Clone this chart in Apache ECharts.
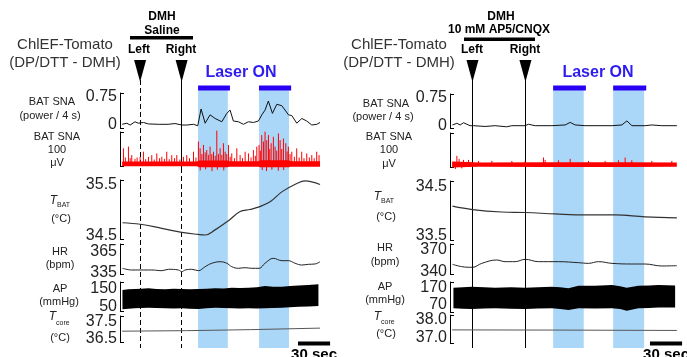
<!DOCTYPE html>
<html>
<head>
<meta charset="utf-8">
<script src="https://cdn.jsdelivr.net/npm/echarts@6.0.0/dist/echarts.min.js"></script>
<style>
  html, body { margin: 0; padding: 0; background: #fff; }
  #main { width: 687px; height: 357px; }
</style>
</head>
<body>
<div id="main"></div>
<script>
// ---- values, time in s from start of trace ----
// left panel: DMH saline
const laserLeft = [[71, 98.8], [128, 156]];
const injLeft = [16.8, 55.6];            // Left, Right
const scaleBarLeft = 164.4;               // start of 30 s bar

const powerLeft = [[0,0],[4.4,0.03],[7.5,-0.02],[12,0.07],[15,0.03],[20,0.05],[24.6,0.01],[34,0],[43,0],[49.5,0.02],[55.8,-0.02],[60.4,-0.02],[66.7,0],[70.7,-0.04],[73.8,0.42],[77.6,0.03],[82.2,0.26],[86.9,0.16],[93.2,0.07],[97.8,0.30],[100.9,0.39],[104,0.09],[108.7,0.07],[113.4,0],[118,0.07],[122.7,0.05],[127.4,0.09],[130.6,0.26],[133.6,0.39],[136.7,0.64],[140.5,0.30],[144.6,0.55],[149.3,0.51],[155.5,0.26],[158.6,0.24],[163.3,0.03],[168,0.16],[172.6,0.09],[177.3,-0.02],[182,0],[185,0.05]];
const snaSpikesLeft = [[1.2,47],[3,20],[5.9,52],[7.5,18],[9,27],[12,16],[14,20],[16.8,22],[19.9,37],[22,15],[24.6,22],[27.7,27],[30,14],[32.4,32],[35,18],[37.1,22],[39.5,16],[41.7,37],[44,15],[46.4,27],[49,18],[51.1,27],[54,14],[57.3,22],[60.4,27],[63,18],[66.7,37],[69,20],[71.3,67],[72.9,47],[74.5,30],[76,57],[77.6,35],[79.1,42],[80.6,28],[82.2,52],[83.8,30],[85.4,37],[87,25],[88.5,99],[90,30],[91.6,47],[93.2,28],[94.7,62],[96.3,37],[97.8,30],[99.4,57],[101,22],[102.5,32],[105,18],[107.2,47],[110.3,27],[112.5,18],[115,37],[118.1,32],[120.5,20],[122.7,42],[124.5,25],[125.9,52],[128,57],[129.2,40],[130.5,86],[132.1,67],[133.6,96],[135.2,71],[136.8,86],[138,45],[139.3,62],[141.4,81],[143,52],[144.5,40],[146.1,91],[147.7,71],[149.2,45],[150.8,76],[153,62],[154.2,38],[155.4,52],[157,30],[158.6,37],[161,22],[163.2,47],[165.5,20],[167.9,37],[170,18],[172.6,32],[175,20],[177.3,27],[179.5,18],[181.9,37],[184.1,27]];
const snaDipsLeft = [[73,-18],[78,-15],[84,-20],[89,-16],[95,-18],[131,-17],[135,-20],[140,-16],[146,-19],[151,-17]];
const snaTopLeft = [[0,8],[70,8],[71.5,11],[98.5,11],[100,9],[127.5,9],[129,12],[156,12],[157.5,9],[185,9]];
const snaBottomLeft = [[0,-6],[70,-6],[71.5,-9],[98.5,-9],[100,-7],[127.5,-7],[129,-9],[156,-9],[157.5,-7],[185,-7]];
const tbatLeft = [[0.3,34.76],[16.8,34.73],[37.1,34.65],[55.8,34.57],[71.3,34.53],[77.6,34.52],[86.9,34.62],[99.4,34.80],[110.3,34.98],[119.6,35.02],[128,35.07],[138.3,35.17],[149.6,35.37],[163.3,35.53],[171,35.58],[185,35.51]];
const hrLeft = [[0.3,341.7],[9,339.3],[16.8,339.3],[27.7,339.3],[37.1,338.3],[43.3,340.3],[52.6,339.3],[55.8,336.9],[58.9,339.3],[65.1,340.3],[71.3,338.3],[77.6,344],[83.8,348.9],[91.6,351.1],[97.8,348.9],[102.5,344],[108.7,341.7],[115,342.6],[121.2,341.7],[128,341.7],[133.6,348.9],[141.4,356],[149.3,352.6],[155.5,352.6],[161.7,348.9],[167.9,346.4],[174.1,347.4],[180.4,347.9],[185,351.1]];
const apTopLeft = [[0.3,144],[6,149],[11.8,150],[18,152],[24.6,154],[32,150],[40.2,148],[48,151],[55.8,150],[63,148],[71.3,150],[79,152],[86.9,154],[95,153],[102.5,157],[110,155],[118.1,157],[126,160],[133.6,167],[141,163],[149.3,163],[157,166],[164.9,169],[174,172],[183.5,176]];
const apBottomLeft = [[0.3,37],[6,40],[11.8,43],[18,44],[24.6,46],[32,44],[40.2,43],[48,41],[55.8,43],[63,40],[71.3,39],[79,43],[86.9,46],[95,44],[102.5,43],[110,41],[118.1,43],[126,41],[133.6,43],[141,45],[149.3,46],[157,48],[164.9,52],[174,53],[183.5,56]];
const tcoreLeft = [[0,36.96],[60,36.99],[120,37.05],[185,37.14]];

// right panel: DMH 10 mM AP5/CNQX
const laserRight = [[94.4, 123], [150.5, 179.4]];
const injRight = [19, 68.5];
const scaleBarRight = 184.9;

const powerRight = [[0.3,0.02],[4.4,0.065],[7.5,0.02],[10.6,0.08],[13.7,0.04],[16.8,0],[19.9,0],[30.8,-0.02],[40.2,0],[51,-0.03],[55.8,0],[68.2,0],[71.3,0.04],[77.6,0],[93.2,0],[105.6,0.02],[110.3,0.09],[115,0.02],[124.3,0],[149.3,0],[158.6,0.02],[163.3,0.13],[168,0],[180.4,0],[186.6,0.02],[196,0],[210,0]];
const snaSpikesRight = [[4.4,27],[6.5,18],[10.6,15],[15.3,15],[24.6,12],[37.1,12],[55.8,12],[68.2,12],[85.4,22],[86.9,15],[99.4,14],[110.3,18],[127.4,12],[143,12],[155.5,14],[161.7,22],[167.9,14],[186.6,12],[205.3,12]];
const snaDipsRight = [[3,-12],[9,-10]];
const snaTopRight = [[0,10],[15,9],[25,7],[85,8],[120,8],[165,8],[210,7]];
const snaBottomRight = [[0,-7],[15,-6],[25,-5],[85,-6],[120,-6],[165,-6],[210,-5]];
const tbatRight = [[0.3,34.11],[19,34.04],[46.4,33.99],[68.5,33.98],[96.3,33.95],[124.3,33.93],[152.3,33.93],[180.4,33.89],[210,33.87]];
const hrRight = [[0.3,350.5],[9,347.3],[19,346.4],[27.7,351.8],[41.7,356.4],[49.5,354.1],[58.9,354.1],[68.2,357.3],[80.7,354.1],[99.4,354.1],[118.1,352.7],[127.4,351.8],[136.8,354.1],[149.3,351.8],[167.9,350.9],[180.4,350.9],[195.9,348.2],[210,348.6]];
const apTopRight = [[1.2,172],[10,175],[18.4,178],[30,174],[40.2,172],[55,174],[68.2,172],[80,175],[93.2,178],[101,174],[108.7,168],[118.1,183],[133.6,183],[149.3,187],[157,181],[163.2,172],[174.1,183],[184,185],[192.8,187],[208.4,184]];
const apBottomRight = [[1.2,51],[10,48],[18.4,47],[30,49],[40.2,51],[55,48],[68.2,47],[80,49],[93.2,51],[101,47],[108.7,41],[118.1,51],[133.6,50],[149.3,51],[157,47],[163.2,36],[174.1,51],[184,53],[192.8,55],[208.4,55]];
const tcoreRight = [[0,37.45],[100,37.44],[210,37.42]];

// tick labels
const powerTicks = [0, 0.75];
const snaScale = [0, 100];
const tbatTicksLeft = [34.5, 35.5], tbatTicksRight = [33.5, 34.5];
const hrTicksLeft = [335, 365], hrTicksRight = [340, 370];
const apTicksLeft = [50, 150], apTicksRight = [70, 170];
const tcoreTicksLeft = [36.5, 37.5], tcoreTicksRight = [37.0, 38.0];

const FONT = '"Liberation Sans", Arial, sans-serif';

// panel layout (px): bracket top/bottom and pixel rows of the two tick values
const panels = [
  {
    left: 120, width: 215, tMin: -2, tMax: 199,
    laser: laserLeft, inj: injLeft, injDash: [true, 'split'], scaleBar: scaleBarLeft,
    traces: [
      { kind: 'line', data: powerLeft, ticks: powerTicks, top: 93, bottom: 128, px: [124.3, 97], color: '#111', width: 1 },
      { kind: 'sna', spikes: snaSpikesLeft.concat(snaDipsLeft), upper: snaTopLeft, lower: snaBottomLeft, ticks: snaScale, top: 132, bottom: 166, px: [164.3, 130.3], noLabel: true },
      { kind: 'line', data: tbatLeft, ticks: tbatTicksLeft, dec: 1, top: 180, bottom: 239, px: [236, 185], color: '#333', width: 1.2, smooth: true },
      { kind: 'line', data: hrLeft, ticks: hrTicksLeft, top: 244, bottom: 274, px: [273, 252], color: '#222', width: 1, smooth: true },
      { kind: 'band', upper: apTopLeft, lower: apBottomLeft, ticks: apTicksLeft, top: 282, bottom: 311, px: [307, 289] },
      { kind: 'line', data: tcoreLeft, ticks: tcoreTicksLeft, dec: 1, top: 316, bottom: 342, px: [339, 322], color: '#555', width: 1 }
    ]
  },
  {
    left: 450, width: 237, tMin: -2, tMax: 219.5,
    laser: laserRight, inj: injRight, injDash: [false, false], scaleBar: scaleBarRight,
    traces: [
      { kind: 'line', data: powerRight, ticks: powerTicks, top: 94, bottom: 128, px: [125.7, 98], color: '#111', width: 1 },
      { kind: 'sna', spikes: snaSpikesRight.concat(snaDipsRight), upper: snaTopRight, lower: snaBottomRight, ticks: snaScale, top: 133, bottom: 167, px: [165, 131], noLabel: true },
      { kind: 'line', data: tbatRight, ticks: tbatTicksRight, dec: 1, top: 181, bottom: 240, px: [236, 187], color: '#333', width: 1.2, smooth: true },
      { kind: 'line', data: hrRight, ticks: hrTicksRight, top: 244, bottom: 274, px: [272, 250], color: '#222', width: 1, smooth: true },
      { kind: 'band', upper: apTopRight, lower: apBottomRight, ticks: apTicksRight, top: 282, bottom: 312, px: [305, 288] },
      { kind: 'line', data: tcoreRight, ticks: tcoreTicksRight, dec: 1, top: 315, bottom: 343, px: [338, 320], color: '#555', width: 1 }
    ]
  }
];

function axisRange(tr) {
  const [v1, v2] = tr.ticks, [p1, p2] = tr.px;
  const s = (p1 - p2) / (v2 - v1);
  return { min: v1 - (tr.bottom - p1) / s, max: v2 + (p2 - tr.top) / s };
}

function polygonSeries(upper, lower, color, idx) {
  return {
    type: 'custom', xAxisIndex: idx, yAxisIndex: idx, z: 5, silent: true,
    data: [[0, 0]],
    renderItem: function (params, api) {
      const pts = upper.map(p => api.coord(p)).concat(lower.slice().reverse().map(p => api.coord(p)));
      return { type: 'polygon', shape: { points: pts }, style: { fill: color } };
    }
  };
}

const option = {
  animation: false,
  textStyle: { fontFamily: FONT },
  grid: [], xAxis: [], yAxis: [], series: [], graphic: []
};

panels.forEach(P => {
  // full-height overlay: laser bands, injection lines, triangles, time bar
  const oi = option.grid.length;
  option.grid.push({ left: P.left, width: P.width, top: 0, height: 357, outerBoundsMode: 'none' });
  option.xAxis.push({ type: 'value', gridIndex: oi, min: P.tMin, max: P.tMax, show: false });
  option.yAxis.push({ type: 'value', gridIndex: oi, min: 0, max: 357, inverse: true, show: false });

  const areas = [];
  P.laser.forEach(l => {
    areas.push([{ xAxis: l[0], yAxis: 86, itemStyle: { color: '#aad7f8' } }, { xAxis: l[1], yAxis: 348 }]);
    areas.push([{ xAxis: l[0], yAxis: 85.5, itemStyle: { color: '#2a00f5' } }, { xAxis: l[1] + 2, yAxis: 90.5 }]);
  });
  areas.push([{
    xAxis: P.scaleBar, yAxis: 341.5, itemStyle: { color: '#000' },
    label: { show: true, position: 'bottom', distance: 2, formatter: '30 sec', fontSize: 15, fontWeight: 'bold', color: '#000', fontFamily: FONT }
  }, { xAxis: P.scaleBar + 30, yAxis: 345.5 }]);

  const lines = [];
  const solid = { color: '#000', width: 1, type: 'solid' };
  const dashed = { color: '#000', width: 1, type: [5, 3] };
  P.inj.forEach((t, i) => {
    const d = P.injDash[i];
    if (d === 'split') {
      lines.push([{ coord: [t, 80], lineStyle: solid }, { coord: [t, 168] }]);
      lines.push([{ coord: [t, 168], lineStyle: dashed }, { coord: [t, 348] }]);
    } else {
      lines.push([{ coord: [t, 80], lineStyle: d ? dashed : solid }, { coord: [t, 348] }]);
    }
  });

  option.series.push({
    type: 'line', xAxisIndex: oi, yAxisIndex: oi, data: [], symbol: 'none', z: 1, silent: true,
    markArea: { silent: true, label: { show: false }, data: areas },
    markLine: { silent: true, symbol: ['none', 'none'], label: { show: false }, data: lines },
    markPoint: {
      silent: true, label: { show: false },
      data: P.inj.map(t => ({ coord: [t, 71], symbol: 'triangle', symbolRotate: 180, symbolSize: [12, 22], itemStyle: { color: '#000' } }))
    }
  });

  P.traces.forEach(tr => {
    const g = option.grid.length;
    const r = axisRange(tr);
    option.grid.push({ left: P.left, width: P.width, top: tr.top, height: tr.bottom - tr.top, outerBoundsMode: 'none' });
    option.xAxis.push({ type: 'value', gridIndex: g, min: P.tMin, max: P.tMax, show: false });
    option.yAxis.push({
      type: 'value', gridIndex: g, min: r.min, max: r.max,
      splitLine: { show: false },
      axisLine: { show: true, onZero: false, lineStyle: { color: '#000', width: 1 } },
      axisTick: { show: true, inside: true, length: 4, customValues: [r.min, r.max], lineStyle: { color: '#000', width: 1 } },
      axisLabel: {
        show: !tr.noLabel, customValues: tr.ticks, margin: 3, fontSize: 16, color: '#222', fontFamily: FONT,
        formatter: v => tr.dec == null ? String(v) : v.toFixed(tr.dec)
      }
    });
    if (tr.kind === 'line') {
      option.series.push({
        type: 'line', xAxisIndex: g, yAxisIndex: g, data: tr.data, symbol: 'none', z: 5, silent: true,
        smooth: tr.smooth ? 0.4 : false, lineStyle: { color: tr.color, width: tr.width }
      });
    } else if (tr.kind === 'band') {
      option.series.push(polygonSeries(tr.upper, tr.lower, '#000', g));
    } else {
      option.series.push(polygonSeries(tr.upper, tr.lower, '#ff0000', g));
      option.series.push({
        type: 'custom', xAxisIndex: g, yAxisIndex: g, z: 5, silent: true, data: tr.spikes,
        renderItem: function (params, api) {
          const a = api.coord([api.value(0), 0]);
          const b = api.coord([api.value(0), api.value(1)]);
          return { type: 'line', shape: { x1: a[0], y1: a[1], x2: b[0], y2: b[1] }, style: { stroke: '#ff0000', lineWidth: 1 } };
        }
      });
    }
  });
});

// text annotations
function txt(x, y, text, font, fill, align) {
  return { type: 'text', x: x, y: y, silent: true, z: 10,
    style: { text: text, font: font, fill: fill || '#222', textAlign: align || 'center', textVerticalAlign: 'middle' } };
}
const big = '15px ' + FONT, small = '11px ' + FONT, bold = 'bold 12px ' + FONT;
const laserFont = 'bold 16px ' + FONT;
const g = option.graphic;
// left panel
g.push(txt(65, 45, 'ChlEF-Tomato', big, '#333'), txt(65, 63, '(DP/DTT - DMH)', big, '#333'));
g.push(txt(162, 17, 'DMH', bold, '#000'), txt(162, 31, 'Saline', bold, '#000'));
g.push({ type: 'rect', silent: true, shape: { x: 130, y: 36, width: 63, height: 3.5 }, style: { fill: '#000' } });
g.push(txt(139, 50, 'Left', bold, '#000'), txt(181, 50, 'Right', bold, '#000'));
g.push(txt(241, 73, 'Laser ON', laserFont, '#2f1cf0'));
g.push(txt(52, 102, 'BAT SNA', small), txt(50, 116, '(power / 4 s)', small));
g.push(txt(57, 137, 'BAT SNA', small), txt(57, 150, '100', small), txt(57, 163, 'μV', small));
g.push(txt(57, 201, 'T', 'italic 12px ' + FONT, '#222', 'right'), txt(57, 205.5, 'BAT', '7px ' + FONT, '#222', 'left'));
g.push(txt(61, 219, '(°C)', small));
g.push(txt(60, 252, 'HR', small), txt(60, 265, '(bpm)', small));
g.push(txt(60, 289, 'AP', small), txt(59, 302, '(mmHg)', small));
g.push(txt(56, 317, 'T', 'italic 12px ' + FONT, '#222', 'right'), txt(56, 323, 'core', '7px ' + FONT, '#222', 'left'));
g.push(txt(60, 338, '(°C)', small));
// right panel
g.push(txt(399, 45, 'ChlEF-Tomato', big, '#333'), txt(399, 63, '(DP/DTT - DMH)', big, '#333'));
g.push(txt(501, 17, 'DMH', bold, '#000'), txt(499, 30, '10 mM AP5/CNQX', bold, '#000'));
g.push({ type: 'rect', silent: true, shape: { x: 464, y: 37.5, width: 71, height: 3.5 }, style: { fill: '#000' } });
g.push(txt(472, 50, 'Left', bold, '#000'), txt(525, 50, 'Right', bold, '#000'));
g.push(txt(598, 73, 'Laser ON', laserFont, '#2f1cf0'));
g.push(txt(386, 104, 'BAT SNA', small), txt(383, 117, '(power / 4 s)', small));
g.push(txt(389, 137, 'BAT SNA', small), txt(389, 150, '100', small), txt(389, 164, 'μV', small));
g.push(txt(381, 197, 'T', 'italic 12px ' + FONT, '#222', 'right'), txt(381, 201.5, 'BAT', '7px ' + FONT, '#222', 'left'));
g.push(txt(386, 217, '(°C)', small));
g.push(txt(385, 248, 'HR', small), txt(385, 262, '(bpm)', small));
g.push(txt(385, 287, 'AP', small), txt(385, 300, '(mmHg)', small));
g.push(txt(381, 317, 'T', 'italic 12px ' + FONT, '#222', 'right'), txt(381, 322.5, 'core', '7px ' + FONT, '#222', 'left'));
g.push(txt(386, 334, '(°C)', small));

const chart = echarts.init(document.getElementById('main'));
chart.setOption(option);
</script>
</body>
</html>
